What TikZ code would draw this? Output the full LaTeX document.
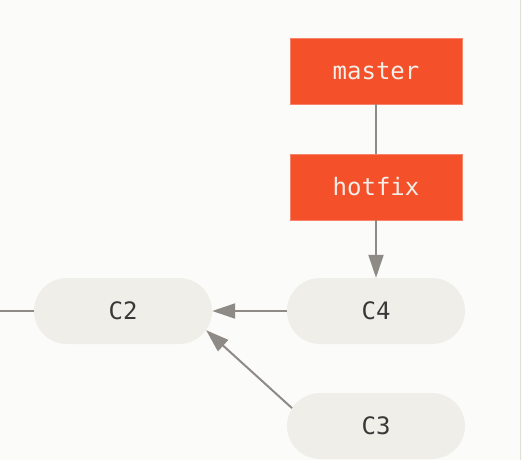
\documentclass[tikz,border=0pt]{standalone}
\usepackage{fontspec}
\setmonofont{DejaVu Sans Mono}
\usetikzlibrary{arrows.meta,shapes.misc}
\definecolor{bg}{HTML}{FBFBF9}
\definecolor{branchred}{HTML}{F4502A}
\definecolor{branchtext}{HTML}{F2EEE8}
\definecolor{commitfill}{HTML}{EFEEE8}
\definecolor{commitext}{HTML}{3A3836}
\definecolor{linkgray}{HTML}{8E8A85}
\definecolor{edgegray}{HTML}{E2DFDA}
\tikzset{
  branch/.style={rectangle, fill=branchred, draw=branchred!70!white, line width=0.6pt,
    minimum width=172pt, minimum height=66pt, inner sep=0pt,
    text=branchtext, font=\ttfamily\fontsize{24}{26}\selectfont},
  commit/.style={rounded rectangle, fill=commitfill, draw=none,
    minimum width=178pt, minimum height=66pt, inner sep=0pt,
    text=commitext, font=\ttfamily\fontsize{24}{26}\selectfont},
  link/.style={draw=linkgray, line width=2pt},
  arr/.style={link, -{Triangle[length=23pt,width=15pt]}}
}
\begin{document}
\begin{tikzpicture}[x=1pt,y=-1pt]
  \fill[bg] (0,0) rectangle (522,460);
  \useasboundingbox (0,0) rectangle (522,460);
  \draw[edgegray, line width=1.2pt] (520.5,0) -- (520.5,460);
  \coordinate (left) at (0,311);
  \node[branch] (master) at (376,71) {master};
  \node[branch] (hotfix) at (376,187) {hotfix};
  \node[commit] (C2) at (123,311) {C2};
  \node[commit] (C4) at (376,311) {C4};
  \node[commit] (C3) at (376,426) {C3};
  \draw[link] (master) -- (hotfix);
  \draw[arr] (hotfix.south) -- (C4.north);
  \draw[arr] (C4.west) -- (C2.east);
  \draw[arr] (C3.168) -- (C2.-13);
  \draw[link] (left) -- (C2.west);
\end{tikzpicture}
\end{document}
